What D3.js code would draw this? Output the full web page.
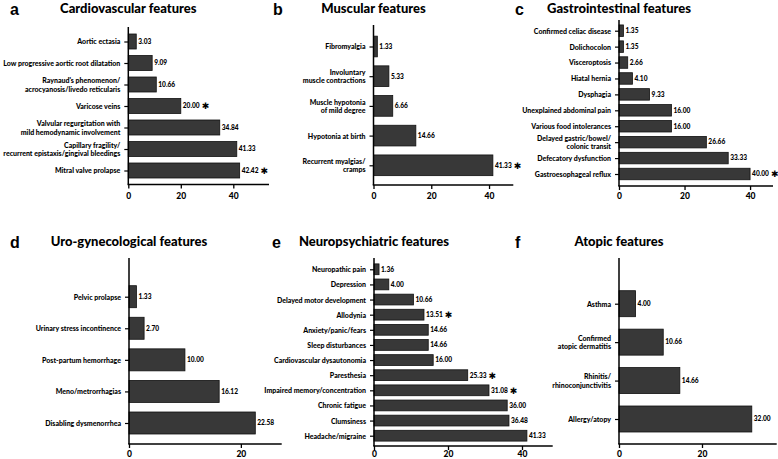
<!DOCTYPE html>
<html><head><meta charset="utf-8">
<script src="https://cdn.jsdelivr.net/npm/d3@7"></script>
<style>
html,body{margin:0;padding:0;background:#fff;}
svg{display:block;font-family:Lato,"Open Sans",sans-serif;font-weight:900;}
</style></head>
<body>
<svg id="chart" width="778" height="459"></svg>
<script>
// ---------- DATA ----------
const titles = ["Cardiovascular features","Muscular features","Gastrointestinal features","Uro-gynecological features","Neuropsychiatric features","Atopic features"];
const panelLetters = ["a","b","c","d","e","f"];
const xTickValues = [0, 20, 40];

const cardioLabels = ["Aortic ectasia","Low progressive aortic root dilatation","Raynaud's phenomenon/\nacrocyanosis/livedo reticularis","Varicose veins","Valvular regurgitation with\nmild hemodynamic involvement","Capillary fragility/\nrecurrent epistaxis/gingival bleedings","Mitral valve prolapse"];
const cardioValues = [3.03, 9.09, 10.66, 20.00, 34.84, 41.33, 42.42];
const cardioStars = [false, false, false, true, false, false, true];

const muscLabels = ["Fibromyalgia","Involuntary\nmuscle contractions","Muscle hypotonia\nof mild degree","Hypotonia at birth","Recurrent myalgias/\ncramps"];
const muscValues = [1.33, 5.33, 6.66, 14.66, 41.33];
const muscStars = [false, false, false, false, true];

const giLabels = ["Confirmed celiac disease","Dolichocolon","Visceroptosis","Hiatal hernia","Dysphagia","Unexplained abdominal pain","Various food intolerances","Delayed gastric/bowel/\ncolonic transit","Defecatory dysfunction","Gastroesophageal reflux"];
const giValues = [1.35, 1.35, 2.66, 4.10, 9.33, 16.00, 16.00, 26.66, 33.33, 40.00];
const giStars = [false, false, false, false, false, false, false, false, false, true];

const uroLabels = ["Pelvic prolapse","Urinary stress incontinence","Post-partum hemorrhage","Meno/metrorrhagias","Disabling dysmenorrhea"];
const uroValues = [1.33, 2.70, 10.00, 16.12, 22.58];
const uroStars = [false, false, false, false, false];

const neuroLabels = ["Neuropathic pain","Depression","Delayed motor development","Allodynia","Anxiety/panic/fears","Sleep disturbances","Cardiovascular dysautonomia","Paresthesia","Impaired memory/concentration","Chronic fatigue","Clumsiness","Headache/migraine"];
const neuroValues = [1.36, 4.00, 10.66, 13.51, 14.66, 14.66, 16.00, 25.33, 31.08, 36.00, 36.48, 41.33];
const neuroStars = [false, false, false, true, false, false, false, true, true, false, false, false];

const atopLabels = ["Asthma","Confirmed\natopic dermatitis","Rhinitis/\nrhinoconjunctivitis","Allergy/atopy"];
const atopValues = [4.00, 10.66, 14.66, 32.00];
const atopStars = [false, false, false, false];

// ---------- LAYOUT (positions only) ----------
const layouts = [
  {ax:128.3, xEnd:269,   xMax:53.6, top:27,  bottom:184.5, first:41.5,  last:170.5, barH:15,   lx:10,  ty:13,  ly:15,  tickY:199},
  {ax:373.5, xEnd:513.3, xMax:48.4, top:25,  bottom:185,   first:46.5,  last:165.3, barH:20.7, lx:273, ty:13,  ly:15,  tickY:199},
  {ax:619,   xEnd:773,   xMax:47,   top:20,  bottom:186,   first:30.7,  last:174,   barH:11.5, lx:515, ty:13,  ly:15,  tickY:199},
  {ax:129,   xEnd:281.7, xMax:27.3, top:258, bottom:444,   first:296.7, last:423,   barH:22,   lx:10,  ty:246, ly:248, tickY:457},
  {ax:374,   xEnd:552.7, xMax:48.3, top:258, bottom:446,   first:269.3, last:435.7, barH:10.8, lx:272, ty:246, ly:248, tickY:457},
  {ax:619,   xEnd:776.7, xMax:38,   top:258, bottom:444,   first:303.7, last:419,   barH:26,   lx:515, ty:246, ly:248, tickY:457}
];

const panels = [
  {labels:cardioLabels, values:cardioValues, stars:cardioStars},
  {labels:muscLabels, values:muscValues, stars:muscStars},
  {labels:giLabels, values:giValues, stars:giStars},
  {labels:uroLabels, values:uroValues, stars:uroStars},
  {labels:neuroLabels, values:neuroValues, stars:neuroStars},
  {labels:atopLabels, values:atopValues, stars:atopStars}
];

const svg = d3.select("#chart");
const labelSize = 7, valueSize = 6.6, tickSize = 8.5, titleSize = 13, letterSize = 16;
const W = 900;

panels.forEach((p, i) => {
  const L = layouts[i];
  const g = svg.append("g");
  const x = d3.scaleLinear().domain([0, L.xMax]).range([L.ax, L.xEnd]);
  const y = d3.scalePoint().domain(p.labels).range([L.first, L.last]);

  // bars
  g.selectAll("rect.bar").data(p.labels).join("rect")
    .attr("class", "bar")
    .attr("x", x(0))
    .attr("y", d => y(d) - L.barH / 2)
    .attr("width", (d, k) => x(p.values[k]) - x(0))
    .attr("height", L.barH)
    .attr("fill", "#383838")
    .attr("stroke", "#111")
    .attr("stroke-width", 0.8);

  // value labels
  const vt = g.selectAll("text.val").data(p.labels).join("text")
    .attr("class", "val")
    .attr("x", (d, k) => x(p.values[k]) + 2)
    .attr("y", d => y(d))
    .attr("dy", "0.35em")
    .attr("font-size", valueSize)
    .attr("font-weight", W)
    .attr("fill", "#000");
  vt.append("tspan").text((d, k) => p.values[k].toFixed(2));
  vt.filter((d, k) => p.stars[k]).append("tspan")
    .attr("font-size", 9).attr("font-family", "DejaVu Sans").attr("dx", 2).attr("dy", "0.12em")
    .text("\u2731");

  // x axis
  const ticks = xTickValues.filter(v => v <= L.xMax);
  const xAxis = d3.axisBottom(x).tickValues(ticks).tickSize(4).tickPadding(2)
    .tickFormat(d3.format("d"));
  const gx = g.append("g").attr("transform", `translate(0,${L.bottom})`).call(xAxis);
  gx.select(".domain").remove();
  gx.selectAll(".tick line").attr("stroke", "#000").attr("stroke-width", 1.3);
  gx.selectAll(".tick text").attr("font-size", tickSize).attr("font-family", "Lato").attr("font-weight", W)
    .attr("fill", "#000").attr("dy", null).attr("y", L.tickY - L.bottom);

  // y axis
  const yAxis = d3.axisLeft(y).tickSize(4).tickPadding(4);
  const gy = g.append("g").attr("transform", `translate(${L.ax},0)`).call(yAxis);
  gy.select(".domain").remove();
  gy.selectAll(".tick line").attr("stroke", "#000").attr("stroke-width", 1.2);
  gy.selectAll(".tick text").each(function(d) {
    const t = d3.select(this);
    const lines = d.split("\n");
    t.text(null).attr("font-size", labelSize).attr("font-family", "Lato").attr("font-weight", W)
      .attr("fill", "#000").attr("dy", null);
    const lh = 8.2;
    lines.forEach((ln, j) => {
      t.append("tspan").attr("x", -8)
        .attr("y", (j - (lines.length - 1) / 2) * lh)
        .attr("dy", "0.35em")
        .text(ln);
    });
  });

  // axis lines
  g.append("line").attr("x1", L.ax).attr("x2", L.ax).attr("y1", L.top).attr("y2", L.bottom)
    .attr("stroke", "#000").attr("stroke-width", 1.5);
  g.append("line").attr("x1", L.ax - 0.75).attr("x2", L.xEnd).attr("y1", L.bottom).attr("y2", L.bottom)
    .attr("stroke", "#000").attr("stroke-width", 1.5);

  // title
  g.append("text").attr("x", L.ax).attr("y", L.ty).attr("text-anchor", "middle")
    .attr("font-size", titleSize).attr("font-weight", W).attr("fill", "#000").text(titles[i]);
  // panel letter
  g.append("text").attr("x", L.lx).attr("y", L.ly).attr("font-size", letterSize)
    .attr("font-family", "Liberation Sans").attr("font-weight", 700)
    .attr("fill", "#000").text(panelLetters[i]);
});
</script>
</body></html>
